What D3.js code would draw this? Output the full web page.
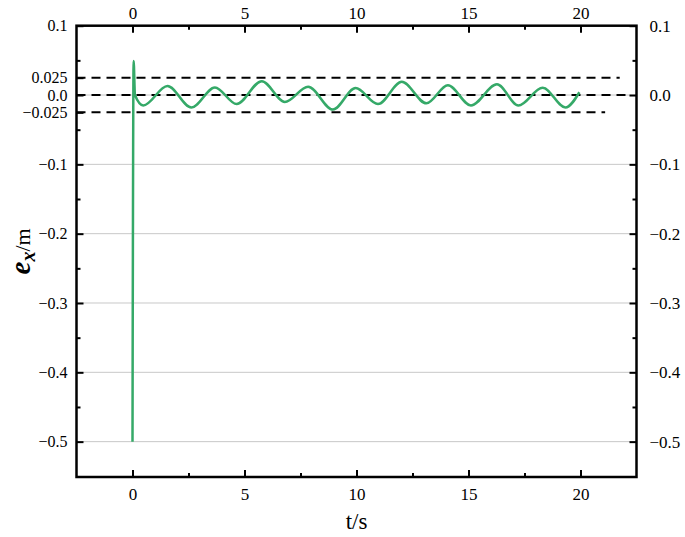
<!DOCTYPE html>
<html>
<head>
<meta charset="utf-8">
<script src="https://cdn.jsdelivr.net/npm/d3@7"></script>
<style>
  html, body { margin: 0; padding: 0; background: #fff; }
  svg { display: block; }
</style>
</head>
<body>
<svg id="chart" width="685" height="537"></svg>
<script>
// ---- data ----
const timeS = [0, 0.05, 0.11, 0.48, 1.56, 2.63, 3.68, 4.65, 5.77, 6.80, 7.84, 8.95, 9.96, 10.96, 12.02, 13.12, 14.08, 15.11, 16.27, 17.23, 18.31, 19.33, 19.95];
const errX  = [-0.5, 0.049, 0.0, -0.015, 0.013, -0.018, 0.011, -0.013, 0.020, -0.010, 0.012, -0.021, 0.010, -0.013, 0.019, -0.012, 0.014, -0.015, 0.0155, -0.015, 0.0106, -0.018, 0.004];

const refLevels = [0.025, 0.0, -0.025];
const refEndT   = [21.75, 22.2, 21.1];

const xMajorTicks = [0, 5, 10, 15, 20];
const xMinorTicks = [2.5, 7.5, 12.5, 17.5];
const xTickLabels = ["0", "5", "10", "15", "20"];

const yLeftTicks  = [0.1, 0.025, 0.0, -0.025, -0.1, -0.2, -0.3, -0.4, -0.5];
const yLeftLabels = ["0.1", "0.025", "0.0", "\u22120.025", "\u22120.1", "\u22120.2", "\u22120.3", "\u22120.4", "\u22120.5"];
const yRightTicks  = [0.1, 0.0, -0.1, -0.2, -0.3, -0.4, -0.5];
const yRightLabels = ["0.1", "0.0", "\u22120.1", "\u22120.2", "\u22120.3", "\u22120.4", "\u22120.5"];
const yMinorTicks = [0.05, -0.05, -0.15, -0.25, -0.35, -0.45];
const gridLevels  = [0.0, -0.1, -0.2, -0.3, -0.4, -0.5];

const xDomain = [-2.5, 22.5];
const yDomain = [-0.551, 0.1];

// ---- layout ----
const FONT = "'Liberation Serif', 'Times New Roman', 'DejaVu Serif', serif";
const svg = d3.select("#chart");
const L = 76.5, R = 636.5, T = 25.7, B = 477;
const x = d3.scaleLinear().domain(xDomain).range([L, R]);
const y = d3.scaleLinear().domain(yDomain).range([B, T]);
const green = "#35a968";

// gridlines
svg.append("g").selectAll("line").data(gridLevels).join("line")
  .attr("x1", L).attr("x2", R)
  .attr("y1", d => y(d)).attr("y2", d => y(d))
  .attr("stroke", "#c8c8c8").attr("stroke-width", 1);

// dashed reference lines
svg.append("g").selectAll("line").data(refLevels).join("line")
  .attr("x1", x(xDomain[0])).attr("x2", (d, i) => x(refEndT[i]))
  .attr("y1", d => y(d)).attr("y2", d => y(d))
  .attr("stroke", "#000").attr("stroke-width", 2)
  .attr("stroke-dasharray", "9,6");

// curve
const pts = timeS.map((t, i) => [t, errX[i]]);
svg.append("path").datum(pts)
  .attr("fill", "none").attr("stroke", green).attr("stroke-width", 2.5)
  .attr("stroke-linejoin", "round")
  .attr("d", d3.line().x(d => x(d[0])).y(d => y(d[1])).curve(d3.curveMonotoneX));

// axes
function styleAxis(size) {
  return g => {
    g.attr("font-family", FONT).attr("font-size", size);
    g.selectAll(".tick line").attr("stroke", "#000").attr("stroke-width", 2);
    g.selectAll(".tick text").attr("fill", "#000");
    g.select(".domain").remove();
  };
}
// left
svg.append("g").attr("transform", `translate(${L},0)`)
  .call(d3.axisLeft(y).tickValues(yLeftTicks).tickSize(-7).tickPadding(9)
    .tickFormat((d, i) => yLeftLabels[i])).call(styleAxis(16));
svg.append("g").attr("transform", `translate(${L},0)`)
  .call(d3.axisLeft(y).tickValues(yMinorTicks).tickSize(-4).tickFormat("")).call(styleAxis(16));
// right
svg.append("g").attr("transform", `translate(${R},0)`)
  .call(d3.axisRight(y).tickValues(yRightTicks).tickSize(-7).tickPadding(13)
    .tickFormat((d, i) => yRightLabels[i])).call(styleAxis(17));
svg.append("g").attr("transform", `translate(${R},0)`)
  .call(d3.axisRight(y).tickValues(yMinorTicks).tickSize(-4).tickFormat("")).call(styleAxis(17));
// bottom
svg.append("g").attr("transform", `translate(0,${B})`)
  .call(d3.axisBottom(x).tickValues(xMajorTicks).tickSize(-7).tickPadding(11)
    .tickFormat((d, i) => xTickLabels[i])).call(styleAxis(17));
svg.append("g").attr("transform", `translate(0,${B})`)
  .call(d3.axisBottom(x).tickValues(xMinorTicks).tickSize(-4).tickFormat("")).call(styleAxis(17));
// top
svg.append("g").attr("transform", `translate(0,${T})`)
  .call(d3.axisTop(x).tickValues(xMajorTicks).tickSize(-7).tickPadding(7)
    .tickFormat((d, i) => xTickLabels[i])).call(styleAxis(17));
svg.append("g").attr("transform", `translate(0,${T})`)
  .call(d3.axisTop(x).tickValues(xMinorTicks).tickSize(-4).tickFormat("")).call(styleAxis(17));

// frame
svg.append("rect").attr("x", L).attr("y", T).attr("width", R - L).attr("height", B - T)
  .attr("fill", "none").attr("stroke", "#000").attr("stroke-width", 2.5);

// axis titles
svg.append("text").attr("x", (L + R) / 2).attr("y", 529)
  .attr("text-anchor", "middle").attr("font-size", 23).attr("font-family", FONT).text("t/s");

const yl = svg.append("text")
  .attr("transform", `translate(30,${(T + B) / 2}) rotate(-90)`)
  .attr("text-anchor", "middle").attr("font-family", FONT);
yl.append("tspan").attr("font-size", 29).attr("font-style", "italic").attr("font-weight", "bold").text("e");
yl.append("tspan").attr("font-size", 20).attr("font-style", "italic").attr("font-weight", "bold").attr("dy", 5).text("x");
yl.append("tspan").attr("font-size", 22).attr("dy", -5).text("/m");
</script>
</body>
</html>
